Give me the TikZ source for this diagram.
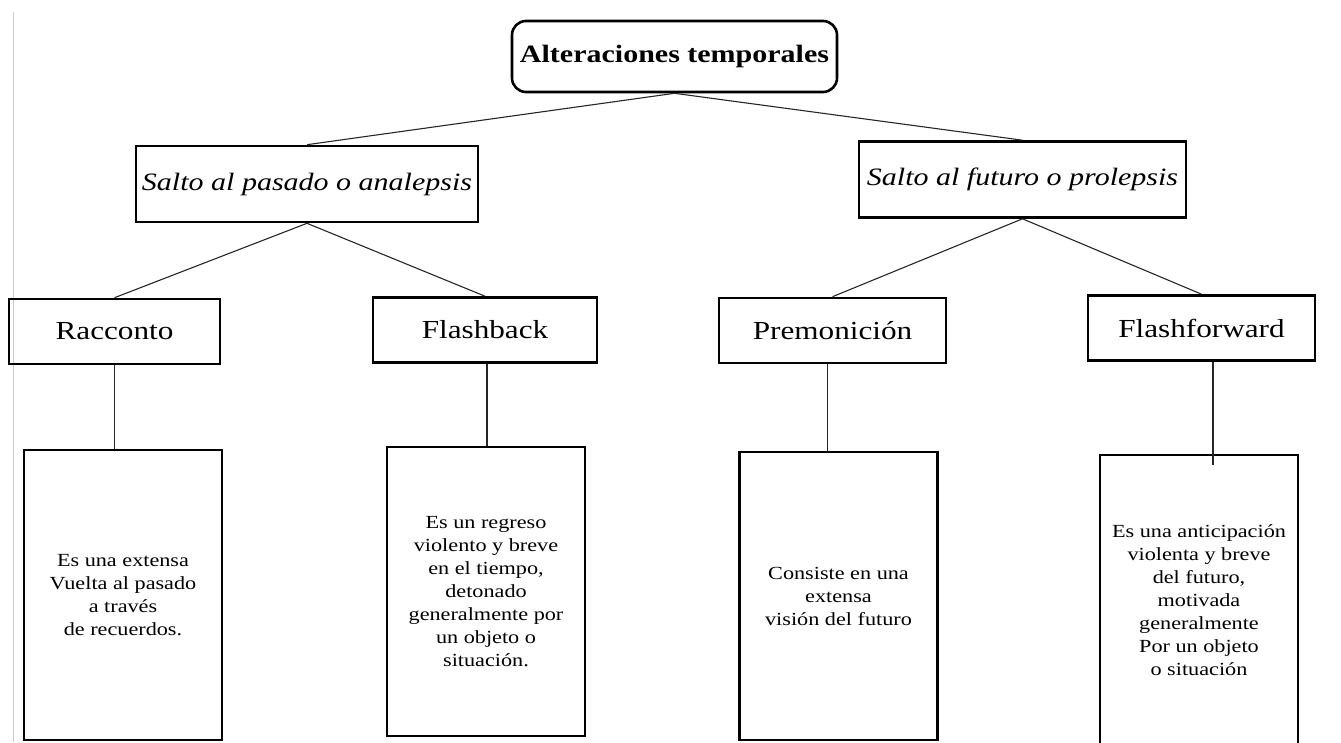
\documentclass[tikz,border=0pt]{standalone}
\usepackage{fontspec}
\setmainfont{Liberation Serif}[FakeStretch=1.2]
\usetikzlibrary{positioning}

\begin{document}
\begin{tikzpicture}[
        x=1pt, y=-1pt,
        topic/.style={rectangle, rounded corners=14pt, draw=black, line width=2.6pt, minimum width=325pt, minimum height=71pt, inner sep=0pt, font=\fontsize{25}{30}\selectfont\bfseries},
        jump/.style={rectangle, draw=black, line width=2.6pt, minimum height=76pt, inner sep=0pt, font=\fontsize{25}{30}\selectfont\itshape},
        kind/.style={rectangle, draw=black, line width=2.6pt, minimum height=65pt, inner sep=0pt, font=\fontsize{26}{30}\selectfont},
        detail/.style={rectangle, draw=black, line width=2.6pt, minimum width=198pt, inner sep=0pt, align=center, font=\fontsize{18.5}{23}\selectfont},
        link/.style={line width=1.1pt, draw=black!85}
    ]
        \useasboundingbox (0,0) rectangle (1341,742);
        \draw[black!20, line width=1pt] (13,12) -- (13,742);

        % Root
        \node[topic] (alt) at (674.5,56.5) {Alteraciones temporales};

        % Jumps in time
        \node[jump, minimum width=342pt] (pasado) at (307,184) {Salto al pasado o analepsis};
        \node[jump, minimum width=327pt] (futuro) at (1022.5,179.5) {Salto al futuro o prolepsis};

        % Kinds
        \node[kind, minimum width=211pt] (racconto) at (114.5,331.5) {Racconto};
        \node[kind, minimum width=224pt] (flashback) at (485,330) {Flashback};
        \node[kind, minimum width=227pt] (premonicion) at (832.5,330.5) {Premonición};
        \node[kind, minimum width=227pt] (flashforward) at (1201.5,328) {Flashforward};

        % Descriptions
        \node[detail, minimum height=290pt] (racconto-txt) at (123,595) {Es una extensa\\Vuelta al pasado\\a través\\de recuerdos.};
        \node[detail, minimum height=289pt] (flashback-txt) at (486,591.5) {Es un regreso\\violento y breve\\en el tiempo,\\detonado\\generalmente por\\un objeto o\\situación.};
        \node[detail, minimum height=288pt] (premonicion-txt) at (838.5,596) {Consiste en una\\extensa\\visión del futuro};
        \node[detail, minimum height=290pt] (flashforward-txt) at (1199,600) {Es una anticipación\\violenta y breve\\del futuro,\\motivada\\generalmente\\Por un objeto\\o situación};

        % Links
        \draw[link] (alt.south) -- (pasado.north);
        \draw[link] (alt.south) -- (futuro.north);
        \draw[link] (pasado.south) -- (racconto.north);
        \draw[link] (pasado.south) -- (flashback.north);
        \draw[link] (futuro.south) -- (premonicion.north);
        \draw[link] (futuro.south) -- (flashforward.north);
        \draw[link] (racconto.south) -- (racconto.south |- racconto-txt.north);
        \draw[link] ([xshift=2pt]flashback.south) -- ([xshift=2pt]flashback.south |- flashback-txt.north);
        \draw[link] ([xshift=-5pt]premonicion.south) -- ([xshift=-5pt]premonicion.south |- premonicion-txt.north);
        \coordinate (ff-end) at (1213,465);
        \draw[link] (flashforward.south -| ff-end) -- (ff-end);
\end{tikzpicture}
\end{document}
